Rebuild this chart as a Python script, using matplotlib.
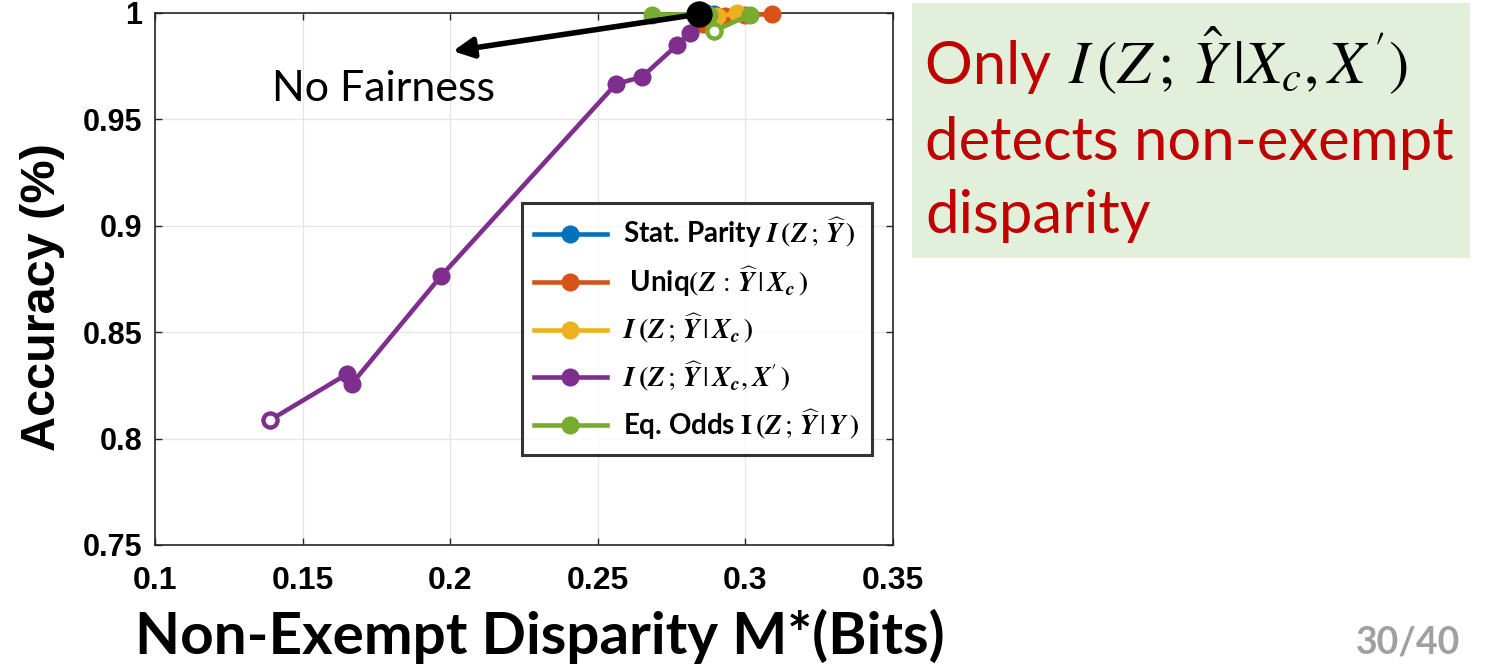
import matplotlib
matplotlib.use("Agg")
import matplotlib.pyplot as plt
from matplotlib.patches import Rectangle

plt.rcParams['mathtext.fontset'] = 'stix'

# ---- data -------------------------------------------------------------
stat_parity_x = [0.2844, 0.2868, 0.2895]
stat_parity_y = [0.9995, 0.9998, 0.9997]

uniq_x = [0.2844, 0.2857, 0.2930, 0.3000, 0.3089]
uniq_y = [0.9995, 0.9950, 0.9985, 0.9990, 0.9995]

cond_xc_x = [0.2844, 0.2880, 0.2905, 0.2970]
cond_xc_y = [0.9995, 0.9975, 0.9985, 0.9998]

cond_xcxp_x = [0.1390, 0.1650, 0.1667, 0.1969, 0.2562, 0.2649, 0.2769, 0.2812, 0.2844]
cond_xcxp_y = [0.8087, 0.8303, 0.8258, 0.8764, 0.9667, 0.9699, 0.9850, 0.9905, 0.9995]

eq_odds_x = [0.2682, 0.2844, 0.2878, 0.2893, 0.3016]
eq_odds_y = [0.9992, 0.9995, 0.9990, 0.9915, 0.9992]

no_fairness_x = [0.2844]
no_fairness_y = [0.9995]

x_ticks = [0.1, 0.15, 0.2, 0.25, 0.3, 0.35]
x_tick_labels = ['0.1', '0.15', '0.2', '0.25', '0.3', '0.35']
y_ticks = [0.75, 0.8, 0.85, 0.9, 0.95, 1.0]
y_tick_labels = ['0.75', '0.8', '0.85', '0.9', '0.95', '1']

labels = [
    r'Stat. Parity $\mathbfit{I}\,\mathbf{(}\mathbfit{Z}\,;\,\widehat{\mathbfit{Y}}\,\mathbf{)}$',
    r' Uniq$\mathbf{(}\mathbfit{Z}\,:\,\widehat{\mathbfit{Y}}\,|\,\mathbfit{X}_{\mathbfit{c}}\,\mathbf{)}$',
    r'$\mathbfit{I}\,\mathbf{(}\mathbfit{Z}\,;\,\widehat{\mathbfit{Y}}\,|\,\mathbfit{X}_{\mathbfit{c}}\,\mathbf{)}$',
    r"$\mathbfit{I}\,\mathbf{(}\mathbfit{Z}\,;\,\widehat{\mathbfit{Y}}\,|\,\mathbfit{X}_{\mathbfit{c}},\mathbfit{X}'\,\mathbf{)}$",
    r'Eq. Odds $\mathbf{I}\,\mathbf{(}\mathbfit{Z}\,;\,\widehat{\mathbfit{Y}}\,|\,\mathbfit{Y}\,\mathbf{)}$',
]
colors = ['#0072BD', '#D95319', '#EDB120', '#7E2F8E', '#77AC30']

# ---- figure -----------------------------------------------------------
W, H = 1498, 670
fig = plt.figure(figsize=(W / 100, H / 100), dpi=100)
fig.patch.set_facecolor('white')
ax = fig.add_axes([155 / W, 1 - 545 / H, (893 - 155) / W, (545 - 13) / H])

series = [
    (stat_parity_x, stat_parity_y, None),
    (uniq_x, uniq_y, None),
    (cond_xc_x, cond_xc_y, None),
    (cond_xcxp_x, cond_xcxp_y, 0),
    (eq_odds_x, eq_odds_y, 3),
]
handles = []
for (xs, ys, hollow), c, lab in zip(series, colors, labels):
    h, = ax.plot(xs, ys, '-o', color=c, lw=3.3, ms=10.5, mew=2.5,
                 clip_on=False, zorder=3, label=lab)
    handles.append(h)
    if hollow is not None:
        ax.plot([xs[hollow]], [ys[hollow]], 'o', color=c, mfc='white',
                ms=10, mew=3, clip_on=False, zorder=3.5)

# unconstrained model
ax.plot(no_fairness_x, no_fairness_y, 'o', color='black', ms=18,
        clip_on=False, zorder=5)
ax.annotate('', xy=(0.2009, 0.9821),
            xytext=(no_fairness_x[0], no_fairness_y[0]),
            arrowprops=dict(arrowstyle='-|>', color='black', lw=4,
                            mutation_scale=30, shrinkA=0, shrinkB=0),
            zorder=4, annotation_clip=False)
ax.text(0.1396, 0.9645, 'No Fairness', fontsize=31, family='Lato',
        ha='left', va='center')

ax.set_xlim(0.1, 0.35)
ax.set_ylim(0.75, 1.0)
ax.set_xticks(x_ticks)
ax.set_xticklabels(x_tick_labels, family='Liberation Sans',
                   fontweight='bold', fontsize=23)
ax.set_yticks(y_ticks)
ax.set_yticklabels(y_tick_labels, family='Liberation Sans',
                   fontweight='bold', fontsize=22)
ax.tick_params(direction='in', top=True, right=True, length=5, width=1,
               color='#262626')
ax.tick_params(axis='x', pad=15)
ax.tick_params(axis='y', pad=9)
ax.grid(True, color='#e6e6e6', lw=1)
ax.set_axisbelow(True)
for s in ax.spines.values():
    s.set_color('#262626')
    s.set_linewidth(1.2)

ax.set_xlabel('Non-Exempt Disparity M*(Bits)', family='Lato',
              fontweight='bold', fontsize=42, va='center')
ax.xaxis.set_label_coords(0.5217, -0.171)
ax.set_ylabel('Accuracy (%)', family='Liberation Sans', fontweight='bold',
              fontsize=35, va='center')
ax.yaxis.set_label_coords(-0.153, 0.466)

leg = ax.legend(handles=handles, loc='upper left',
                bbox_to_anchor=(0.497, 0.643), frameon=True, fancybox=False,
                prop=dict(family='Lato', weight='bold', size=20),
                handlelength=2.6, handletextpad=0.6, labelspacing=0.48,
                borderpad=0.45, borderaxespad=0)
leg.get_frame().set_edgecolor('black')
leg.get_frame().set_linewidth(2.2)
leg.set_zorder(6)

# ---- side note --------------------------------------------------------
fig.add_artist(Rectangle((912 / W, 1 - 258 / H), (1470 - 912) / W, 255 / H,
                         transform=fig.transFigure, facecolor='#E2EFDA',
                         edgecolor='none', zorder=0))
red = '#C00000'
note_fs = 43
t1 = fig.text(925 / W, 1 - 84 / H, 'Only ', color=red, fontsize=note_fs,
              family='Lato', va='baseline', ha='left')
fig.canvas.draw()
bb = t1.get_window_extent()
fig.text((bb.x1 + 2) / W, 1 - 84 / H, r"$I\,(Z\,;\,\hat{Y}\,|X_c,X\,')$",
         color='black', fontsize=note_fs + 1, va='baseline', ha='left')
fig.text(925 / W, 1 - 160 / H, 'detects non-exempt', color=red,
         fontsize=note_fs, family='Lato', va='baseline', ha='left')
fig.text(925 / W, 1 - 233 / H, 'disparity', color=red,
         fontsize=note_fs, family='Lato', va='baseline', ha='left')

fig.text(1460 / W, 1 - 643 / H, '30/40', color='#A0A0A0', fontsize=27,
         family='Lato', fontweight='bold', ha='right', va='center')

fig.savefig('out.png', dpi=100)
